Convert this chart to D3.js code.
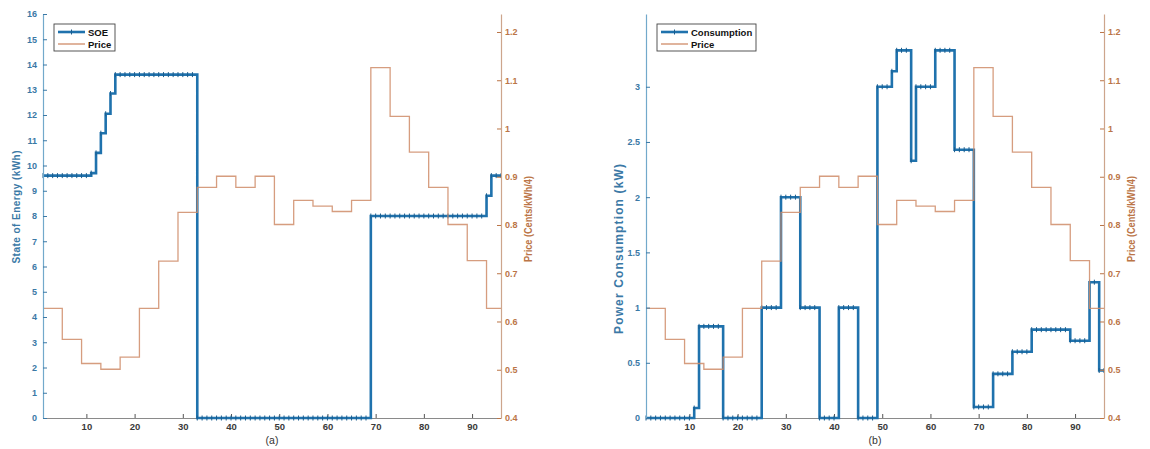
<!DOCTYPE html>
<html>
<head>
<meta charset="utf-8">
<script src="https://cdn.jsdelivr.net/npm/d3@7"></script>
<style>
  body { margin: 0; background: #fff; }
  svg text { font-family: "Liberation Sans", Arial, sans-serif; }
</style>
</head>
<body>
<div id="canvas"></div>
<script>
"use strict"

/* Data: 96 quarter-hour slots (1..96) */
let soe = [
  9.6, 9.6, 9.6, 9.6, 9.6, 9.6, 9.6, 9.6, 9.6, 9.6,
  9.7, 10.5, 11.28, 12.05, 12.85,
  13.6, 13.6, 13.6, 13.6, 13.6, 13.6, 13.6, 13.6, 13.6, 13.6, 13.6, 13.6, 13.6, 13.6, 13.6, 13.6, 13.6,
  0, 0, 0, 0, 0, 0, 0, 0, 0, 0, 0, 0, 0, 0, 0, 0, 0, 0,
  0, 0, 0, 0, 0, 0, 0, 0, 0, 0, 0, 0, 0, 0, 0, 0, 0, 0,
  8, 8, 8, 8, 8, 8, 8, 8, 8, 8, 8, 8, 8, 8, 8, 8, 8, 8, 8, 8, 8, 8, 8, 8,
  8.8, 9.6, 9.6, 9.6
];

let consumption = [
  0, 0, 0, 0, 0, 0, 0, 0, 0, 0,
  0.09, 0.83, 0.83, 0.83, 0.83, 0.83,
  0, 0, 0, 0, 0, 0, 0, 0,
  1, 1, 1, 1,
  2, 2, 2, 2,
  1, 1, 1, 1,
  0, 0, 0, 0,
  1, 1, 1, 1,
  0, 0, 0, 0,
  3, 3, 3, 3.14, 3.33, 3.33, 3.33, 2.33,
  3, 3, 3, 3,
  3.33, 3.33, 3.33, 3.33,
  2.43, 2.43, 2.43, 2.43,
  0.1, 0.1, 0.1, 0.1,
  0.4, 0.4, 0.4, 0.4,
  0.6, 0.6, 0.6, 0.6,
  0.8, 0.8, 0.8, 0.8, 0.8, 0.8, 0.8, 0.8,
  0.7, 0.7, 0.7, 0.7,
  1.23, 1.23, 0.43, 0.43
];

/* Hourly price, each hour covers 4 slots */
let priceHourly = [
  0.627, 0.563, 0.513, 0.501, 0.526, 0.627, 0.725, 0.826,
  0.878, 0.901, 0.878, 0.901, 0.801, 0.851, 0.839, 0.828,
  0.851, 1.126, 1.025, 0.951, 0.878, 0.801, 0.726, 0.627
];

/* Tick labels */
let xTicks = [10, 20, 30, 40, 50, 60, 70, 80, 90];
let soeTicks = [0, 1, 2, 3, 4, 5, 6, 7, 8, 9, 10, 11, 12, 13, 14, 15, 16];
let consTicks = [0, 0.5, 1, 1.5, 2, 2.5, 3];
let priceTicks = [0.4, 0.5, 0.6, 0.7, 0.8, 0.9, 1, 1.1, 1.2];

/* Drawing config */
let svgWidth = 1150;
let svgHeight = 449;
let plotTop = 14;
let plotBottom = 418;
let blue = "#1f72ad";
let blueAxis = "#72a9cb";
let blueText = "#3b79a6";
let orange = "#cf8c68";
let orangeAxis = "#cda58c";
let orangeText = "#bb7547";

let svg = d3.select("#canvas")
    .append("svg")
    .attr("width", svgWidth)
    .attr("height", svgHeight);

function drawPanel(p) {
    let g = svg.append("g");

    let x = d3.scaleLinear().domain([1, 96]).range([p.left, p.right]);
    let yL = d3.scaleLinear().domain(p.leftDomain).range([plotBottom, plotTop]);
    let yR = d3.scaleLinear().domain([0.4, 1.2373]).range([plotBottom, plotTop]);

    /* x axis (ticks point inward) */
    let xAxis = g.append("g")
        .attr("transform", "translate(0," + plotBottom + ")")
        .call(d3.axisBottom(x).tickValues(xTicks).tickSizeInner(-4).tickSizeOuter(0).tickPadding(5));
    xAxis.select(".domain").attr("stroke", "#8a8a8a");
    xAxis.selectAll(".tick line").attr("stroke", "#555");
    xAxis.selectAll("text")
        .attr("fill", "#3a3a3a")
        .attr("font-size", "9.5px")
        .attr("font-weight", "bold");

    /* main series: stairs with + markers */
    let pts = p.values.map(function (v, i) { return [i + 1, v]; });
    let stair = d3.line()
        .x(function (d) { return x(d[0]); })
        .y(function (d) { return yL(d[1]); })
        .curve(d3.curveStepAfter);

    g.append("path")
        .attr("d", stair(pts))
        .attr("fill", "none")
        .attr("stroke", blue)
        .attr("stroke-width", 2.6);

    g.selectAll(".mk")
        .data(pts)
        .join("path")
        .attr("class", "mk")
        .attr("d", function (d) {
            let cx = x(d[0]), cy = yL(d[1]);
            return "M" + cx + "," + (cy - 2.5) + "V" + (cy + 2.5);
        })
        .attr("stroke", "#1a5d8e")
        .attr("stroke-width", 1);

    /* price stairs on right axis */
    let pricePts = priceHourly.map(function (v, i) { return [1 + i * 4, v]; });
    pricePts.push([96, priceHourly[priceHourly.length - 1]]);
    let priceLine = d3.line()
        .x(function (d) { return x(d[0]); })
        .y(function (d) { return yR(d[1]); })
        .curve(d3.curveStepAfter);

    g.append("path")
        .attr("d", priceLine(pricePts))
        .attr("fill", "none")
        .attr("stroke", orange)
        .attr("stroke-opacity", 0.85)
        .attr("stroke-width", 1.3);

    /* left axis */
    let leftAxis = g.append("g")
        .attr("transform", "translate(" + p.left + ",0)")
        .call(d3.axisLeft(yL).tickValues(p.leftTicks).tickFormat(d3.format("")).tickSizeInner(-4).tickSizeOuter(0).tickPadding(6));
    leftAxis.select(".domain").attr("stroke", blueAxis).attr("stroke-width", 1.2);
    leftAxis.selectAll(".tick line").attr("stroke", blueText);
    leftAxis.selectAll("text")
        .attr("fill", blueText)
        .attr("font-size", "9px")
        .attr("font-weight", "bold");

    /* right axis */
    let rightAxis = g.append("g")
        .attr("transform", "translate(" + p.right + ",0)")
        .call(d3.axisRight(yR).tickValues(priceTicks).tickFormat(d3.format("")).tickSizeInner(-4).tickSizeOuter(0).tickPadding(4));
    rightAxis.select(".domain").attr("stroke", orangeAxis).attr("stroke-width", 1.2);
    rightAxis.selectAll(".tick line").attr("stroke", orangeText);
    rightAxis.selectAll("text")
        .attr("fill", orangeText)
        .attr("font-size", "9px")
        .attr("font-weight", "bold");

    /* axis labels */
    g.append("text")
        .attr("transform", "translate(" + p.leftLabelX + "," + p.leftLabelY + ") rotate(-90)")
        .attr("text-anchor", "middle")
        .attr("dominant-baseline", "middle")
        .attr("fill", blueText)
        .attr("font-size", p.leftLabelSize)
        .attr("font-weight", "bold")
        .attr("textLength", p.leftLabelLen)
        .attr("lengthAdjust", "spacing")
        .text(p.leftLabel);

    g.append("text")
        .attr("transform", "translate(" + p.rightLabelX + ",219) rotate(-90)")
        .attr("text-anchor", "middle")
        .attr("dominant-baseline", "middle")
        .attr("fill", orangeText)
        .attr("font-size", "10px")
        .attr("font-weight", "bold")
        .attr("textLength", 86)
        .attr("lengthAdjust", "spacingAndGlyphs")
        .text("Price (Cents/kWh/4)");

    /* caption under the axis */
    g.append("text")
        .attr("x", p.captionX)
        .attr("y", 444)
        .attr("text-anchor", "middle")
        .attr("fill", "#333")
        .attr("font-size", "10.5px")
        .text(p.caption);

    /* legend */
    g.append("rect")
        .attr("x", p.legX)
        .attr("y", 24)
        .attr("width", p.legW)
        .attr("height", 27)
        .attr("fill", "#fff")
        .attr("stroke", "#444")
        .attr("stroke-width", 0.9);
    g.append("line")
        .attr("x1", p.legX + 4).attr("x2", p.legX + 31)
        .attr("y1", 32).attr("y2", 32)
        .attr("stroke", blue).attr("stroke-width", 2.6);
    g.append("path")
        .attr("d", "M" + (p.legX + 17.5) + ",29.5V34.5")
        .attr("stroke", "#1a5d8e").attr("stroke-width", 1);
    g.append("line")
        .attr("x1", p.legX + 4).attr("x2", p.legX + 31)
        .attr("y1", 44).attr("y2", 44)
        .attr("stroke", orange).attr("stroke-width", 1.3);
    g.append("text")
        .attr("x", p.legX + 34).attr("y", 35.5)
        .attr("font-size", "9.5px").attr("font-weight", "bold").attr("fill", "#111")
        .text(p.legendName);
    g.append("text")
        .attr("x", p.legX + 34).attr("y", 47.5)
        .attr("font-size", "9.5px").attr("font-weight", "bold").attr("fill", "#111")
        .text("Price");
}

/* (a) state of energy */
drawPanel({
    left: 43, right: 501,
    values: soe,
    leftDomain: [0, 16],
    leftTicks: soeTicks,
    leftLabel: "State of Energy (kWh)",
    leftLabelX: 17, leftLabelY: 207, leftLabelLen: 113, leftLabelSize: "10px",
    rightLabelX: 529,
    caption: "(a)", captionX: 272,
    legX: 54, legW: 61, legendName: "SOE"
});

/* (b) power consumption */
drawPanel({
    left: 646, right: 1104,
    values: consumption,
    leftDomain: [0, 3.659],
    leftTicks: consTicks,
    leftLabel: "Power Consumption (kW)",
    leftLabelX: 620, leftLabelY: 249, leftLabelLen: 170, leftLabelSize: "12px",
    rightLabelX: 1132,
    caption: "(b)", captionX: 875,
    legX: 657, legW: 99, legendName: "Consumption"
});
</script>
</body>
</html>
